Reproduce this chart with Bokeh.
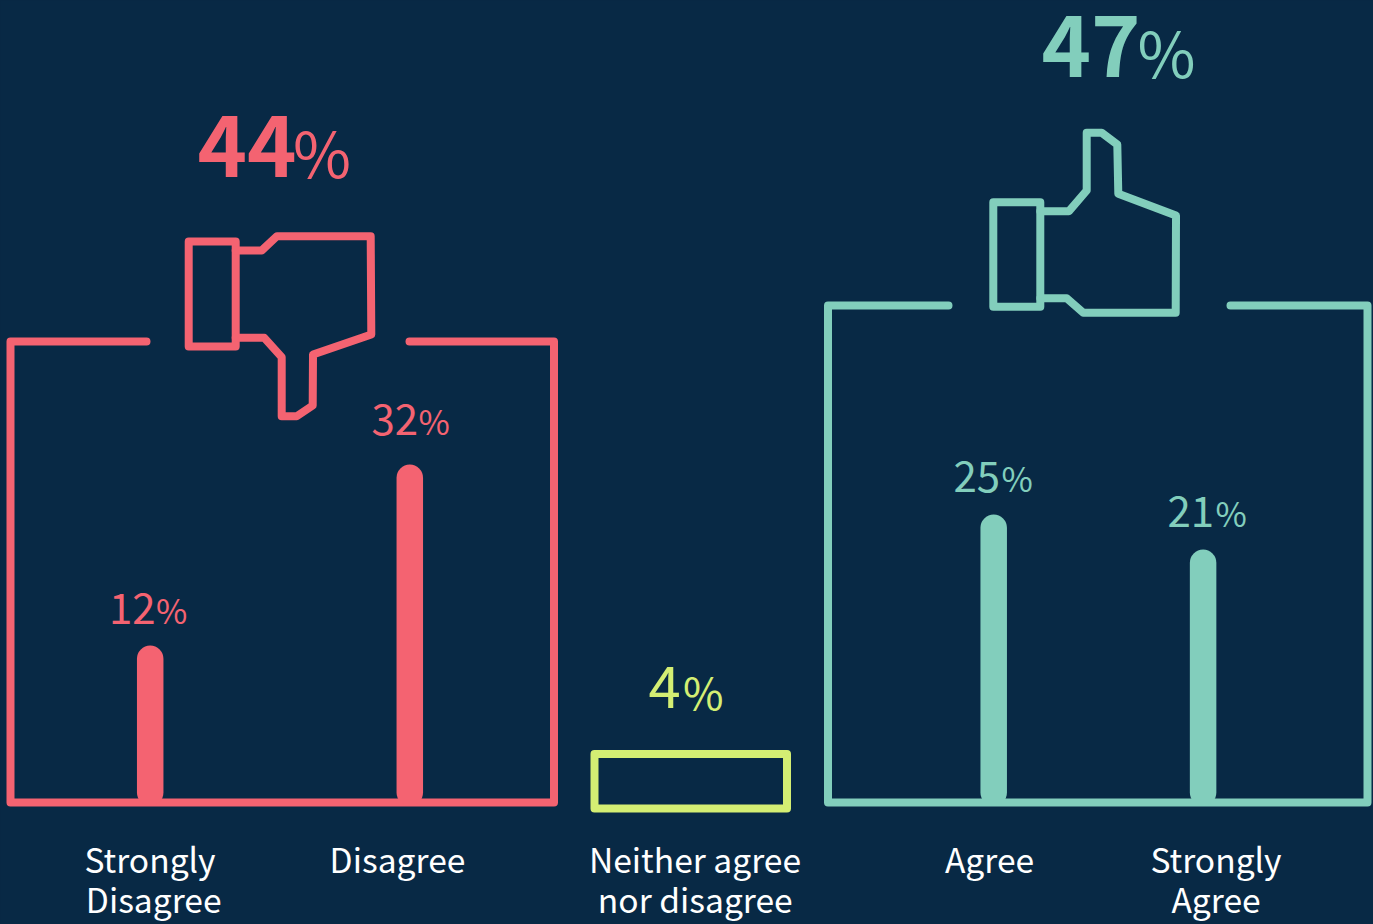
from bokeh.plotting import figure
from bokeh.models import Range1d
from bokeh.core.properties import value
from bokeh.embed import file_html
from bokeh.resources import INLINE

BG = "#082945"
RED = "#f46371"
GREEN = "#82cebc"
YELLOW = "#d4ee73"
FONT = "Noto Sans CJK JP"

# data
bar_percents = ["12", "32", "25", "21"]
bar_heights = [157, 338, 288, 253]
bar_x = [149.7, 409.3, 993.2, 1202.6]
bar_colors = [RED, RED, GREEN, GREEN]
bar_pct_x = [108.5, 371, 953, 1167]
bar_pct_sym_x = [155.5, 418, 1001, 1215]
bar_pct_base = [623, 434, 491, 526]

totals = ["44", "47"]
total_x = [197, 1041]
total_sym_x = [292.5, 1137]
total_base = [174, 74]
total_colors = [RED, GREEN]

neutral_percent = "4"

label_lines = ["Strongly", "Disagree", "Disagree", "Neither agree", "nor disagree", "Agree", "Strongly", "Agree"]
label_x = [149.5, 153.2, 397, 694.5, 694.8, 989, 1215.5, 1215.5]
label_base = [872, 912, 872, 872, 912, 872, 872, 912]

BASE = 802

p = figure(width=1373, height=924, x_range=Range1d(0, 1373), y_range=Range1d(924, 0),
           toolbar_location=None, output_backend="svg", min_border=0,
           background_fill_color=BG, border_fill_color=BG, outline_line_color=None)
p.axis.visible = False
p.grid.visible = False

LW = 8
def outline(xs, ys, color):
    p.line(xs, ys, line_color=color, line_width=LW, line_join="round", line_cap="round")

# group frames
outline([146, 10, 10, 553.5, 553.5, 409], [341, 341, BASE, BASE, 341, 341], RED)
outline([948, 827.5, 827.5, 1367, 1367, 1230], [305, 305, BASE, BASE, 305, 305], GREEN)

# neutral box
outline([594, 786.5, 786.5, 594, 594], [753.5, 753.5, 808, 808, 753.5], YELLOW)

# thumb down
outline([188.2, 235.2, 235.2, 188.2, 188.2], [241, 241, 346, 346, 241], RED)
outline([235.2, 261.2, 276.5, 370.2, 370.8, 312.5, 312.2, 296.2, 281.2, 281.2, 263.8, 235.2],
        [250, 250, 235.7, 235.7, 334, 354, 405, 415.7, 415.7, 356.7, 337.3, 337.3], RED)

# thumb up
outline([992.8, 1039.8, 1039.8, 992.8, 992.8], [201.7, 201.7, 306.3, 306.3, 201.7], GREEN)
outline([1039.8, 1068.5, 1086.2, 1086.2, 1101.2, 1116.8, 1117.8, 1175.5, 1175.2, 1082.8, 1066.2, 1039.8],
        [210.7, 210.7, 190, 132.3, 132.3, 144, 193.3, 215, 312.3, 312.3, 297.7, 297.7], GREEN)

# bars
BW = 26.5
p.segment(x0=bar_x, x1=bar_x,
          y0=[BASE - 10] * len(bar_x),
          y1=[BASE - h + BW / 2 for h in bar_heights],
          line_color=bar_colors, line_width=BW, line_cap="round")

def txt(x, y, s, color, size, style="normal", align="left", dy=0):
    p.text(x=x, y=[v - dy for v in y], text=s, text_color=color, text_font=value(FONT),
           text_font_size=f"{size}px", text_font_style=style, text_align=align, text_baseline="alphabetic")

# bar percentages
txt(bar_pct_x, bar_pct_base, bar_percents, bar_colors, 42, dy=15)
txt(bar_pct_sym_x, bar_pct_base, ["%"] * 4, bar_colors, 34, dy=14)

# group totals
txt(total_x, total_base, totals, total_colors, 84, style="bold", dy=29)
txt(total_sym_x, total_base, ["%"] * 2, total_colors, 63, dy=24.5)

# neutral
txt([648], [709], [neutral_percent], [YELLOW], 58, dy=23.5)
txt([682.5], [709], ["%"], [YELLOW], 44, dy=19)

# category labels
txt(label_x, label_base, label_lines, ["#ffffff"] * len(label_lines), 33.6, align="center", dy=14)

html = file_html(p, INLINE)
html = html.replace("<head>", "<head><style>html,body{margin:0;background:%s;overflow:hidden}</style>" % BG, 1)
open("out.html", "w").write(html)
